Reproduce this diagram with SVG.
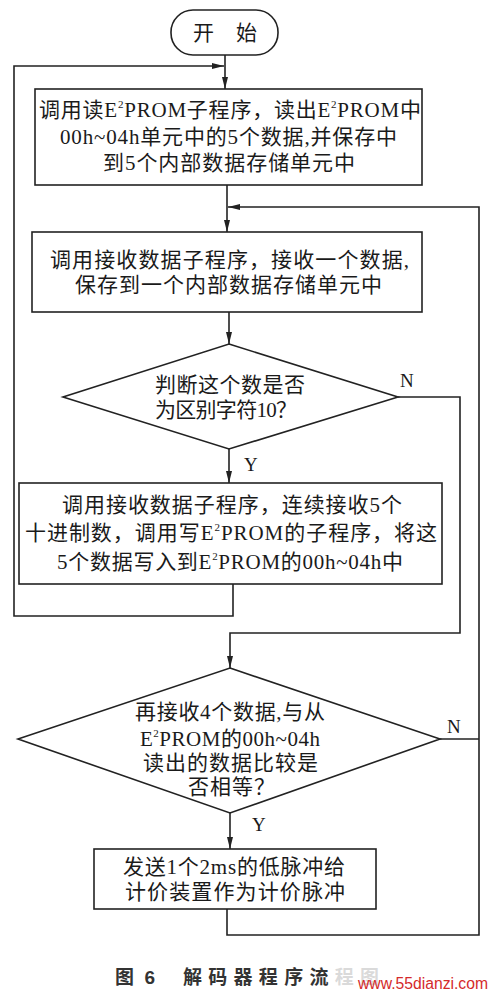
<svg xmlns="http://www.w3.org/2000/svg" width="493" height="995" viewBox="0 0 493 995">
<defs>
<style>
.shape{fill:#fff;stroke:#222;stroke-width:1.6}
.con{fill:none;stroke:#222;stroke-width:1.6}
.t{font-family:"Liberation Serif","Noto Sans CJK SC",serif;font-size:21px;fill:#1a1a1a}
.lbl{font-family:"Liberation Serif",serif;font-size:19px;fill:#1a1a1a}
.cap{font-family:"Liberation Sans","Noto Sans CJK SC",sans-serif;font-size:19px;font-weight:bold;fill:#333}
.wm{font-family:"Liberation Sans",sans-serif;font-size:16px;fill:#d42a2a}
</style>
<marker id="arr" viewBox="0 0 12 6" refX="12" refY="3" markerWidth="12" markerHeight="6" markerUnits="userSpaceOnUse" orient="auto">
<path d="M0,0 L12,3 L0,6 Z" fill="#222"/>
</marker>
</defs>
<rect width="493" height="995" fill="#fff"/>

<g id="connectors">
<line class="con" x1="225" y1="55" x2="225" y2="89" marker-end="url(#arr)"/>
<polyline class="con" points="233,584 233,616 14,616 14,66 224,66" marker-end="url(#arr)"/>
<line class="con" x1="227" y1="185" x2="227" y2="232" marker-end="url(#arr)"/>
<line class="con" x1="229" y1="312" x2="229" y2="344" marker-end="url(#arr)"/>
<line class="con" x1="229" y1="449" x2="229" y2="483" marker-end="url(#arr)"/>
<polyline class="con" points="398,397 460,397 460,633 230,633 230,668" marker-end="url(#arr)"/>
<line class="con" x1="230" y1="813" x2="230" y2="849" marker-end="url(#arr)"/>
<line class="con" x1="440" y1="739" x2="479" y2="739"/>
<polyline class="con" points="227,909 227,935 479,935 479,207 228,207" marker-end="url(#arr)"/>
<text class="lbl" x="400" y="387">N</text>
<text class="lbl" x="244" y="471">Y</text>
<text class="lbl" x="447" y="733">N</text>
<text class="lbl" x="252" y="831">Y</text>
</g>

<g id="start">
<rect class="shape" x="171" y="10" width="107" height="45" rx="22" ry="22"/>
<text class="t" x="193" y="40" font-size="21" textLength="64" lengthAdjust="spacing">开　始</text>
</g>

<g id="box1">
<rect class="shape" x="35" y="89" width="387" height="96"/>
<text class="t" x="39" y="117" textLength="382" lengthAdjust="spacing">调用读E<tspan font-size="11" dy="-9">2</tspan><tspan dy="9">PROM子程序，读出E</tspan><tspan font-size="11" dy="-9">2</tspan><tspan dy="9">PROM中</tspan></text>
<text class="t" x="60" y="144" textLength="337" lengthAdjust="spacing">00h~04h单元中的5个数据,并保存中</text>
<text class="t" x="103" y="170" textLength="252" lengthAdjust="spacing">到5个内部数据存储单元中</text>
</g>

<g id="box2">
<rect class="shape" x="32" y="232" width="390" height="80"/>
<text class="t" x="50" y="267" textLength="359" lengthAdjust="spacing">调用接收数据子程序，接收一个数据,</text>
<text class="t" x="75" y="292" textLength="307" lengthAdjust="spacing">保存到一个内部数据存储单元中</text>
</g>

<g id="decision1">
<polygon class="shape" points="229,344 398,397 229,449 63,397"/>
<text class="t" x="155" y="392" textLength="150" lengthAdjust="spacing">判断这个数是否</text>
<text class="t" x="155" y="417" textLength="142" lengthAdjust="spacing">为区别字符10？</text>
</g>

<g id="box3">
<rect class="shape" x="19" y="483" width="423" height="101"/>
<text class="t" x="62" y="512" textLength="340" lengthAdjust="spacing">调用接收数据子程序，连续接收5个</text>
<text class="t" x="25" y="540" textLength="412" lengthAdjust="spacing">十进制数，调用写E<tspan font-size="11" dy="-9">2</tspan><tspan dy="9">PROM的子程序，将这</tspan></text>
<text class="t" x="57" y="569" textLength="346" lengthAdjust="spacing">5个数据写入到E<tspan font-size="11" dy="-9">2</tspan><tspan dy="9">PROM的00h~04h中</tspan></text>
</g>

<g id="decision2">
<polygon class="shape" points="230,668 440,739 230,813 18,739"/>
<text class="t" x="135" y="719" textLength="190" lengthAdjust="spacing">再接收4个数据,与从</text>
<text class="t" x="140" y="746" textLength="180" lengthAdjust="spacing">E<tspan font-size="11" dy="-9">2</tspan><tspan dy="9">PROM的00h~04h</tspan></text>
<text class="t" x="143" y="770" textLength="175" lengthAdjust="spacing">读出的数据比较是</text>
<text class="t" x="188" y="794" textLength="87" lengthAdjust="spacing">否相等？</text>
</g>

<g id="box4">
<rect class="shape" x="94" y="849" width="282" height="60"/>
<text class="t" x="123" y="874" textLength="222" lengthAdjust="spacing">发送1个2ms的低脉冲给</text>
<text class="t" x="125" y="899" textLength="220" lengthAdjust="spacing">计价装置作为计价脉冲</text>
</g>

<g id="caption">
<text class="cap" x="115" y="984" textLength="40" lengthAdjust="spacing">图 6</text>
<text class="cap" x="183" y="984" textLength="196" lengthAdjust="spacing">解码器程序流程图</text>
<rect x="333" y="958" width="160" height="37" fill="#fff" opacity="0.82"/>
<text class="wm" x="358" y="989" textLength="130" lengthAdjust="spacingAndGlyphs">www.55dianzi.com</text>
</g>
</svg>
